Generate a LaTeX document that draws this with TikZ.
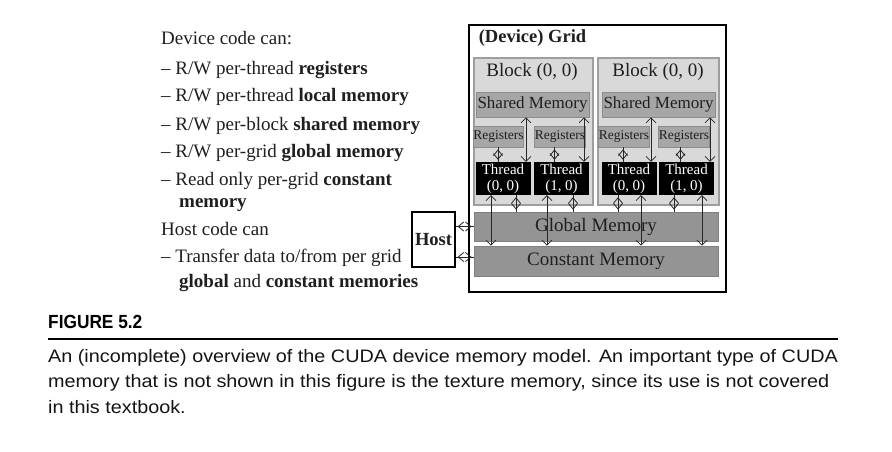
\documentclass[tikz,border=0pt]{standalone}
\usepackage{fontspec}
\setmainfont{Liberation Serif}
\newfontfamily\capfont[FakeStretch=1.1]{Liberation Sans}
\newfontfamily\figfont[FakeStretch=0.91]{Liberation Sans}
\usetikzlibrary{arrows.meta}

\begin{document}
\begin{tikzpicture}[x=1pt, y=-1pt,
		txt/.style={anchor=base west, inner sep=0, text=black!88, font=\fontsize{19}{22}\selectfont},
		captxt/.style={anchor=base west, inner sep=0, text=black!92, font=\capfont\fontsize{18}{20}\selectfont},
		blockbox/.style={draw=black!38, line width=1.2pt, fill=black!15, minimum height=147, inner sep=0},
		membox/.style={draw=black!45, line width=0.8pt, fill=black!35, inner sep=0, text=black!88},
		threadbox/.style={fill=black, text=white, minimum width=55, minimum height=33, inner sep=0, align=center, font=\fontsize{15}{16}\selectfont},
		rw/.style={<->, >={Straight Barb[length=5pt,width=10pt]}, line width=0.7pt, draw=black!85},
		rwshort/.style={line width=0.8pt, draw=black!85, postaction={draw, <->, >={Straight Barb[length=5.5pt,width=9pt]}, shorten <=2pt, shorten >=2pt}}]
		%%%%% START %%%%%
		
		\useasboundingbox[fill=white] (0, 0) rectangle (892, 452);
		
		% text on the left
		\node[txt] (l1) at (161, 45) {Device code can:};
		\node[txt] (l2) at (161, 75) {\textendash\ R/W per-thread \textbf{registers}};
		\node[txt] (l3) at (161, 102) {\textendash\ R/W per-thread \textbf{local memory}};
		\node[txt] (l4) at (161, 130) {\textendash\ R/W per-block \textbf{shared memory}};
		\node[txt] (l5) at (161, 157) {\textendash\ R/W per-grid \textbf{global memory}};
		\node[txt] (l6) at (161, 185) {\textendash\ Read only per-grid \textbf{constant}};
		\node[txt] (l7) at (179, 207) {\textbf{memory}};
		\node[txt] (l8) at (161, 235) {Host code can};
		\node[txt] (l9) at (161, 262) {\textendash\ Transfer data to/from per grid};
		\node[txt] (l10) at (179, 287) {\textbf{global} and \textbf{constant memories}};
		
		% grid
		\node[draw, line width=1.6pt, minimum width=257, minimum height=267, inner sep=0] (grid) at (597.5, 158.5) {};
		\node[font=\fontsize{18.5}{20}\selectfont\bfseries, text=black!88] (gridlbl) at (532.5, 38) {(Device) Grid};
		
		\node[blockbox, minimum width=119] (blk1) at (533.5, 131.5) {};
		\node[blockbox, minimum width=121] (blk2) at (658.5, 131.5) {};
		\node[font=\fontsize{19}{20}\selectfont, text=black!88] (blk1lbl) at (532, 72) {Block (0, 0)};
		\node[font=\fontsize{19}{20}\selectfont, text=black!88] (blk2lbl) at (658, 72) {Block (0, 0)};
		
		\node[membox, minimum width=113, minimum height=25, font=\fontsize{17}{18}\selectfont] (shm1) at (532.5, 104.5) {Shared Memory};
		\node[membox, minimum width=113, minimum height=25, font=\fontsize{17}{18}\selectfont] (shm2) at (658.5, 104.5) {Shared Memory};
		
		\node[membox, minimum width=47, minimum height=21, font=\fontsize{13.5}{14}\selectfont] (reg11) at (498.5, 136.5) {Registers};
		\node[membox, minimum width=50, minimum height=21, font=\fontsize{13.5}{14}\selectfont] (reg12) at (560, 136.5) {Registers};
		\node[membox, minimum width=50, minimum height=21, font=\fontsize{13.5}{14}\selectfont] (reg21) at (624, 136.5) {Registers};
		\node[membox, minimum width=50, minimum height=21, font=\fontsize{13.5}{14}\selectfont] (reg22) at (684, 136.5) {Registers};
		
		\node[threadbox] (thr11) at (503, 178.5) {Thread\\(0, 0)};
		\node[threadbox] (thr12) at (561.5, 178.5) {Thread\\(1, 0)};
		\node[threadbox] (thr21) at (629, 178.5) {Thread\\(0, 0)};
		\node[threadbox] (thr22) at (686.5, 178.5) {Thread\\(1, 0)};
		
		\node[membox, draw=black!50, fill=black!42, minimum width=244, minimum height=29, font=\fontsize{19}{20}\selectfont] (gmem) at (596, 226.5) {Global Memory};
		\node[membox, draw=black!50, fill=black!42, minimum width=244, minimum height=30, font=\fontsize{19}{20}\selectfont] (cmem) at (596, 261) {Constant Memory};
		
		\node[draw, line width=1.2pt, fill=white, minimum width=43, minimum height=55, inner sep=0, font=\fontsize{18.5}{20}\selectfont\bfseries, text=black!88] (host) at (433.5, 239.5) {Host};
		
		% registers <-> thread
		\coordinate (a11) at ([xshift=-5pt]thr11.north);
		\coordinate (a12) at ([xshift=-7pt]thr12.north);
		\coordinate (a21) at ([xshift=-6pt]thr21.north);
		\coordinate (a22) at ([xshift=-6pt]thr22.north);
		\draw[rwshort] (a11 |- reg11.south) -- (a11);
		\draw[rwshort] (a12 |- reg12.south) -- (a12);
		\draw[rwshort] (a21 |- reg21.south) -- (a21);
		\draw[rwshort] (a22 |- reg22.south) -- (a22);
		
		% shared memory <-> thread
		\coordinate (s11) at ([xshift=23pt]thr11.north);
		\coordinate (s12) at ([xshift=22.5pt]thr12.north);
		\coordinate (s21) at ([xshift=22pt]thr21.north);
		\coordinate (s22) at ([xshift=23.5pt]thr22.north);
		\draw[rw] (s11 |- shm1.south) -- (s11);
		\draw[rw] (s12 |- shm1.south) -- (s12);
		\draw[rw] (s21 |- shm2.south) -- (s21);
		\draw[rw] (s22 |- shm2.south) -- (s22);
		
		% thread <-> global memory
		\coordinate (d11) at ([xshift=13pt]thr11.south);
		\coordinate (d12) at ([xshift=11.5pt]thr12.south);
		\coordinate (d21) at ([xshift=-11pt]thr21.south);
		\coordinate (d22) at ([xshift=-12.5pt]thr22.south);
		\draw[rwshort] (d11) -- (d11 |- gmem.north);
		\draw[rwshort] (d12) -- (d12 |- gmem.north);
		\draw[rwshort] (d21) -- (d21 |- gmem.north);
		\draw[rwshort] (d22) -- (d22 |- gmem.north);
		
		% thread <-> constant memory
		\coordinate (c11) at ([xshift=-12pt]thr11.south);
		\coordinate (c12) at ([xshift=-14.5pt]thr12.south);
		\coordinate (c21) at ([xshift=12pt]thr21.south);
		\coordinate (c22) at ([xshift=15.5pt]thr22.south);
		\draw[rw] (c11) -- (c11 |- cmem.north);
		\draw[rw] (c12) -- (c12 |- cmem.north);
		\draw[rw] (c21) -- (c21 |- cmem.north);
		\draw[rw] (c22) -- (c22 |- cmem.north);
		
		% host <-> memories
		\coordinate (hg) at ([yshift=0pt]gmem.west);
		\coordinate (hc) at ([yshift=4pt]cmem.west);
		\draw[rwshort] (host.east |- hg) -- (hg);
		\draw[rwshort] (host.east |- hc) -- (hc);
		
		% caption
		\node[anchor=base west, inner sep=0, font=\figfont\fontsize{19}{20}\selectfont\bfseries] (fig) at (48, 328.5) {FIGURE 5.2};
		\draw[line width=2pt] (48, 339) -- (838, 339);
		\node[captxt] (cap1) at (48, 362) {An (incomplete) overview of the CUDA device memory model. An important type of CUDA};
		\node[captxt] (cap2) at (48, 387.5) {memory that is not shown in this figure is the texture memory, since its use is not covered};
		\node[captxt] (cap3) at (48, 413) {in this textbook.};
		
		%%%%% END %%%%%
	\end{tikzpicture}
\end{document}
